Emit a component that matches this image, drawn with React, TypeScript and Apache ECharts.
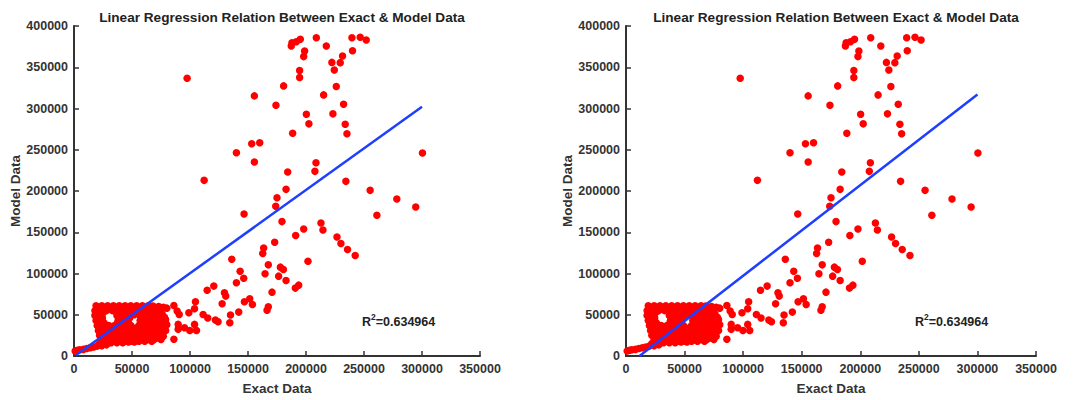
import React, { useEffect, useRef } from "react";
import * as echarts from "echarts";

const titleText = "Linear Regression Relation Between Exact & Model Data";
const xName = "Exact Data";
const yName = "Model Data";
const r2Text = "0.634964";

const sparsePoints: number[][] = [
  [187300, 375800], [187900, 379800], [191600, 381000], [195100, 383800],
  [208900, 385800], [217500, 375800], [198800, 369700], [198000, 362900],
  [194500, 346000], [194500, 337500], [180700, 327400], [222300, 355900],
  [224400, 346700], [229500, 355600], [231500, 363700], [226100, 326600],
  [239600, 385800], [246700, 386300], [251900, 383000], [240100, 370100],
  [215200, 316500], [232400, 305200], [223200, 293500], [233800, 281000],
  [235300, 269300], [200300, 293100], [202500, 281400], [188500, 270100],
  [174100, 304000], [155500, 315300], [97500, 336700], [153200, 257200],
  [160100, 258500], [155500, 235100], [140000, 246400], [112200, 212900],
  [208600, 234300], [207700, 223800], [184200, 223000], [182800, 202000],
  [175000, 191900], [173900, 181400], [234400, 211700], [255300, 200800],
  [278300, 190300], [294600, 180600], [261100, 170600], [300400, 246000],
  [146600, 172200], [179300, 162900], [212900, 161300], [214600, 152800],
  [198000, 154000], [191100, 146000], [226700, 144300], [230100, 136300],
  [235800, 129000], [242400, 121800], [201700, 114900], [173000, 137900],
  [163500, 131000], [162700, 124200], [136000, 117300], [167500, 110500],
  [177900, 107700], [180500, 104800], [164700, 99600], [176400, 96800],
  [143200, 102800], [146300, 94300], [140000, 88700], [182800, 91500],
  [193700, 85900], [190800, 82300], [120500, 84700], [114800, 79800],
  [129700, 76600], [130800, 72600], [127700, 63300], [170700, 77400],
  [167500, 59700], [166400, 55600], [146900, 65700], [151500, 69400],
  [153800, 62500], [142000, 53200], [134900, 49600], [134300, 40300],
  [104700, 65700], [103900, 57300], [99000, 52400], [111300, 50400],
  [115300, 46000], [121900, 43500], [124200, 41500], [103900, 38300],
  [105600, 31000], [99800, 31000], [95300, 34300], [89800, 32300],
  [86100, 61300], [88900, 54400], [90700, 50400], [89800, 38300], [86100, 20200],
];

const clusterPoints: number[][] = [
  [19000, 61000], [24000, 61000], [29000, 61000], [34000, 61000], [39000, 61000], [44000, 61000],
  [49000, 61000], [54000, 61000], [59000, 61000], [64000, 61000], [68000, 60500], [73000, 60000],
  [77000, 59000], [80000, 58000],
  [21500, 58000], [26500, 58000], [31500, 58000], [36500, 58000], [41500, 58000], [46500, 58000],
  [51500, 58000], [56500, 58000], [61500, 58000], [66500, 58000], [71000, 57500], [75500, 57000],
  [18000, 55000], [23000, 55000], [28000, 55000], [33000, 55000], [38000, 55000], [43000, 55000],
  [48000, 55000], [53000, 55000], [58000, 55000], [63000, 55000], [69000, 55000], [74000, 54000],
  [20500, 52000], [25000, 52000], [37000, 52000], [40500, 52000], [45500, 52000], [50500, 52000],
  [55500, 52000], [60500, 52000], [65500, 52000], [70500, 52000], [76000, 51000],
  [18000, 49000], [23000, 49000], [37000, 49000], [42000, 49000], [47000, 49000],
  [52000, 50000], [57000, 49000], [62000, 49000], [67000, 49000], [72000, 48000], [78000, 47000],
  [21000, 46000], [24500, 46000], [38500, 46000], [43500, 46000], [48000, 46000], [59500, 46000],
  [64500, 46000], [69000, 46000], [74000, 45000], [79000, 44000],
  [19000, 43000], [24000, 43000], [38000, 43000], [41000, 43000], [46000, 43000],
  [57000, 43000], [62000, 43000], [66000, 43000], [71000, 42000], [76000, 43000],
  [22000, 40000], [26000, 40000], [37500, 40000], [42500, 40000], [47000, 40000],
  [58500, 40000], [63500, 40000], [68500, 40000], [75000, 40000], [78000, 40500],
  [20000, 37000], [25000, 37000], [30000, 37000], [35000, 37000], [40000, 37000], [45000, 37000],
  [49000, 37000], [56000, 37000], [61000, 37000], [65000, 37000], [76000, 37000],
  [80000, 38000],
  [23500, 34000], [28500, 34000], [33500, 34000], [38500, 34000], [43500, 34000], [48500, 34000],
  [53500, 34000], [58500, 34000], [63000, 34000], [67500, 33000], [72000, 34000], [77000, 34000],
  [21000, 31000], [26000, 31000], [31000, 31000], [36000, 31000], [41000, 31000], [46000, 31000],
  [51000, 31000], [56000, 31000], [61000, 31000], [65000, 31000], [70000, 31000], [74000, 30000],
  [79000, 31000],
  [24500, 28000], [29500, 28000], [34500, 28000], [39500, 28000], [44500, 28000], [49500, 28000],
  [54500, 28000], [59500, 28000], [64500, 28000], [69500, 28000], [75000, 27500],
  [22000, 25000], [27000, 25000], [32000, 25000], [37000, 25000], [42000, 25000], [47000, 25000],
  [52000, 25000], [57000, 25000], [62000, 25000], [67000, 25000], [72000, 25000], [77000, 24000],
  [26500, 22500], [31500, 22500], [36500, 22500], [41500, 22500], [46500, 22500], [51500, 22500],
  [56500, 22500], [61500, 22500], [66500, 22500], [72000, 22000],
  [24000, 20000], [29000, 20000], [34000, 20000], [39000, 20000], [44000, 20000], [49000, 20000],
  [54000, 20000], [59000, 20000], [64000, 20000], [69000, 20000], [75000, 20000],
  [25000, 18000], [30000, 18000], [35000, 18000], [40000, 18000], [45000, 18000], [50000, 18000],
  [56000, 18000], [61000, 18000], [67000, 18000],
  [22000, 15000], [27000, 15000], [32000, 16000], [37000, 16000], [42000, 16000], [47000, 17000],
  [52000, 17000],
];

const tailPoints: number[][] = [
  [1000, 6000], [3000, 7000], [5000, 7500], [8000, 8000], [11000, 9000],
  [14000, 10000], [17000, 11000], [20000, 12000], [24000, 12500], [28000, 13500],
];

const leftFit: number[][] = [[1500, 1000], [300000, 302000]];
const rightFit: number[][] = [[11500, 0], [300000, 317000]];

const FONT = "Liberation Sans, Arial, sans-serif";
const AXIS_COLOR = "#333333";

export default function App() {
  const ref = useRef<HTMLDivElement>(null);
  useEffect(() => {
    if (!ref.current) return;
    const chart = echarts.init(ref.current, undefined, { renderer: "svg" });
    const scatterData = [...tailPoints, ...clusterPoints, ...sparsePoints];
    const grids = [
      { left: 74, top: 26, width: 406, height: 331 },
      { left: 626, top: 26, width: 410, height: 331 },
    ];
    const labelStyle = {
      fontFamily: FONT,
      fontWeight: "bold",
      fontSize: 12.5,
      color: AXIS_COLOR,
      margin: 6,
      formatter: (v: number) => String(v),
    };
    const mkX = (i: number) => ({
      type: "value",
      gridIndex: i,
      min: 0,
      max: 350000,
      interval: 50000,
      name: xName,
      nameLocation: "middle",
      nameGap: 25,
      nameTextStyle: { fontFamily: FONT, fontWeight: "bold", fontSize: 13.5, color: AXIS_COLOR },
      axisLine: { show: true, onZero: false, lineStyle: { color: AXIS_COLOR, width: 2 } },
      axisTick: { show: true, inside: true, length: 5, lineStyle: { color: AXIS_COLOR, width: 1.5 } },
      axisLabel: labelStyle,
      splitLine: { show: false },
    });
    const mkY = (i: number) => ({
      type: "value",
      gridIndex: i,
      min: 0,
      max: 400000,
      interval: 50000,
      name: yName,
      nameLocation: "middle",
      nameGap: 48,
      nameRotate: 90,
      nameTextStyle: { fontFamily: FONT, fontWeight: "bold", fontSize: 13.5, color: AXIS_COLOR },
      axisLine: { show: true, onZero: false, lineStyle: { color: AXIS_COLOR, width: 2 } },
      axisTick: { show: true, inside: true, length: 5, lineStyle: { color: AXIS_COLOR, width: 1.5 } },
      axisLabel: labelStyle,
      splitLine: { show: false },
    });
    const mkR2 = (x: number) => ({
      type: "text",
      left: x,
      top: 312,
      style: {
        text: "{r|R}{s|2}{r|=" + r2Text + "}",
        rich: {
          r: { fontFamily: FONT, fontWeight: "bold", fontSize: 12.5, fill: "#222", lineHeight: 16, verticalAlign: "bottom" },
          s: { fontFamily: FONT, fontWeight: "bold", fontSize: 8.5, fill: "#222", lineHeight: 16, verticalAlign: "top" },
        },
      },
    });
    const titleStyle = { fontFamily: FONT, fontWeight: "bold", fontSize: 13.6, color: "#222" };
    chart.setOption({
      animation: false,
      title: [
        { text: titleText, left: 277, top: 5, textAlign: "center", textStyle: titleStyle },
        { text: titleText, left: 831, top: 5, textAlign: "center", textStyle: titleStyle },
      ],
      grid: grids,
      xAxis: [mkX(0), mkX(1)],
      yAxis: [mkY(0), mkY(1)],
      series: [
        { type: "scatter", xAxisIndex: 0, yAxisIndex: 0, data: scatterData, symbolSize: 7.5, itemStyle: { color: "#ff0000", opacity: 1 }, z: 2 },
        { type: "scatter", xAxisIndex: 1, yAxisIndex: 1, data: scatterData, symbolSize: 7.5, itemStyle: { color: "#ff0000", opacity: 1 }, z: 2 },
        { type: "line", xAxisIndex: 0, yAxisIndex: 0, data: leftFit, showSymbol: false, symbol: "none", lineStyle: { color: "#1f3fff", width: 2.5 }, z: 3 },
        { type: "line", xAxisIndex: 1, yAxisIndex: 1, data: rightFit, showSymbol: false, symbol: "none", lineStyle: { color: "#1f3fff", width: 2.5 }, z: 3 },
      ],
      graphic: [mkR2(362), mkR2(915)],
    });
    return () => chart.dispose();
  }, []);
  return <div ref={ref} style={{ position: "fixed", left: 0, top: 0, width: 1076, height: 400, background: "#fff" }} />;
}
